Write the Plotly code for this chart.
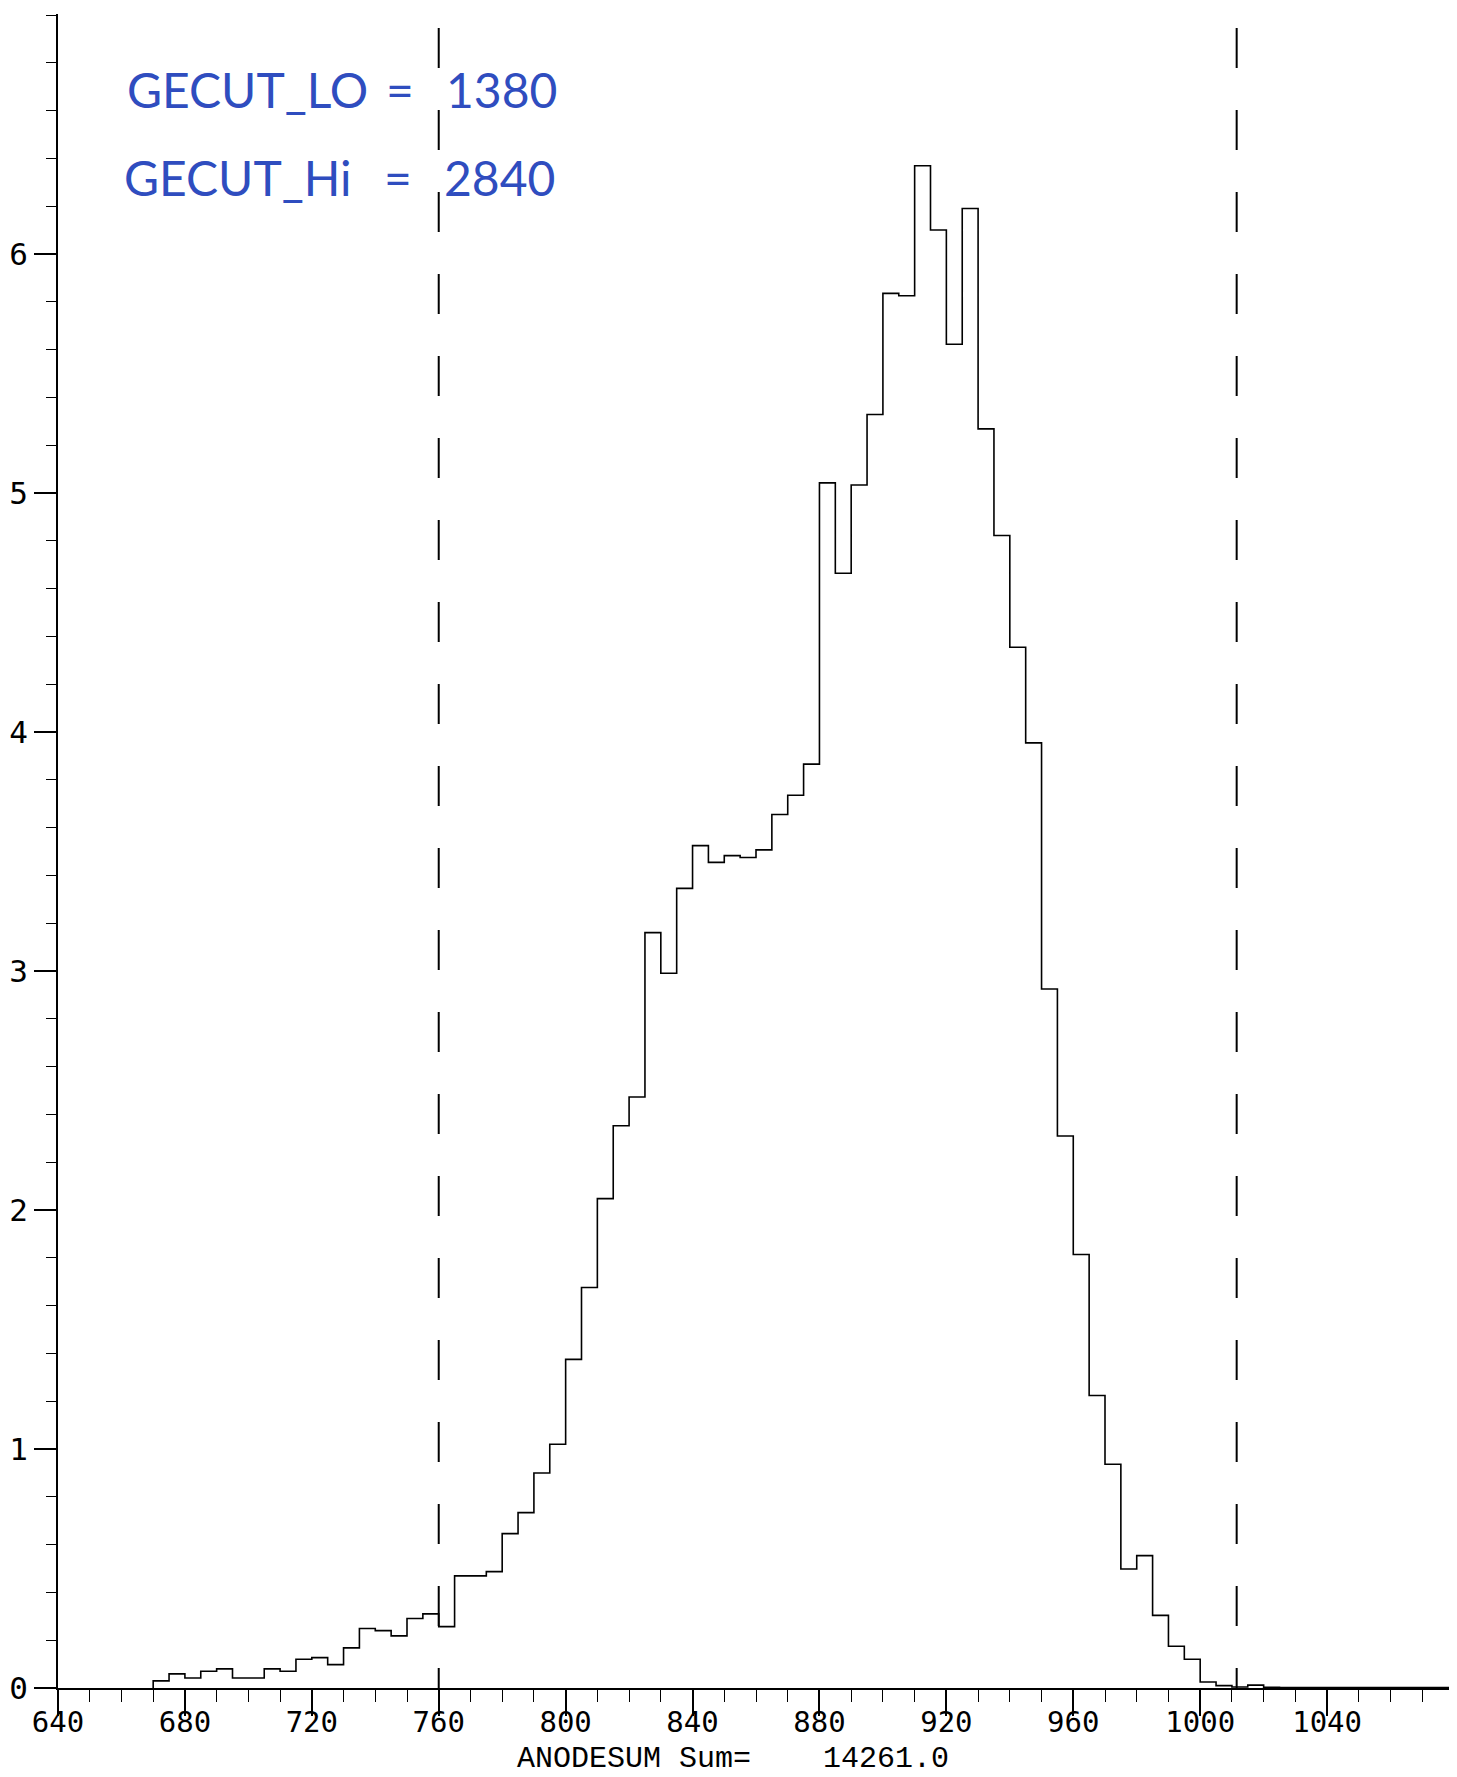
import plotly.graph_objects as go

# ---------------- data ----------------
bin_start = 670          # left edge of first bin
bin_width = 5            # bin width (ANODESUM units)
counts = [
    0.030, 0.059, 0.042, 0.070, 0.080, 0.042, 0.042, 0.080, 0.070, 0.120,   # 670-715
    0.127, 0.098, 0.168, 0.249, 0.240, 0.218, 0.291, 0.310, 0.257, 0.469,   # 720-765
    0.469, 0.487, 0.646, 0.734, 0.900, 1.020, 1.375, 1.676, 2.048, 2.353,   # 770-815
    2.473, 3.161, 2.991, 3.346, 3.525, 3.455, 3.483, 3.475, 3.507, 3.655,   # 820-865
    3.736, 3.866, 5.043, 4.665, 5.034, 5.329, 5.836, 5.826, 6.370, 6.101,   # 870-915
    5.623, 6.191, 5.269, 4.823, 4.355, 3.955, 2.925, 2.310, 1.814, 1.224,   # 920-965
    0.936, 0.498, 0.554, 0.304, 0.175, 0.120, 0.025, 0.010, 0.004, 0.012,   # 970-1015
    0.003, 0.002, 0.002, 0.002, 0.002, 0.002, 0.002, 0.002, 0.002, 0.002,   # 1020-1065
    0.002, 0.002,                                                           # 1070-1075
]
x_tick_vals = [640, 680, 720, 760, 800, 840, 880, 920, 960, 1000, 1040]
y_tick_vals = [0, 1, 2, 3, 4, 5, 6]
cut_lines = [760, 1011.5]
gecut_names = ["GECUT_LO", "GECUT_Hi"]
gecut_values = ["1380", "2840"]
hist_name = "ANODESUM"
hist_sum = 14261.0

X_RANGE = [640, 1080]
Y_RANGE = [0, 7.005]

# ---------------- figure ----------------
edges = [bin_start + i * bin_width for i in range(len(counts) + 1)]
xs = [edges[0]] + edges
ys = [0] + counts + [counts[-1]]

fig = go.Figure()
fig.add_trace(go.Scatter(
    x=xs, y=ys, mode="lines", line=dict(shape="hv", color="black", width=1.6),
    showlegend=False, hoverinfo="skip"))

for cx in cut_lines:
    fig.add_trace(go.Scatter(
        x=[cx, cx], y=[-0.084, Y_RANGE[1]], mode="lines",
        line=dict(color="black", width=2, dash="40px,42px"),
        showlegend=False, hoverinfo="skip"))

W, H = 1457, 1777
ML, MR, MT, MB = 50, 11, 6, 97
PW, PH = W - ML - MR, H - MT - MB


def px(xp):
    return (xp - ML) / PW


def py(yp):
    return (H - MB - yp) / PH


mono = "Liberation Mono"
x_tick_font = dict(family="DejaVu Sans Mono", size=29, color="black")
y_tick_font = dict(family="DejaVu Sans Mono", size=31, color="black")
annotations = [
    dict(text=f"{hist_name}\u00a0Sum=\u00a0\u00a0\u00a0\u00a0{hist_sum:.1f}",
         xref="paper", yref="paper", x=px(508), y=py(1751), xanchor="left", yanchor="middle",
         showarrow=False, borderpad=0, font=dict(family=mono, size=30, color="black")),
]
hand_blue = "#2f4dbf"
hand_font = dict(family="Lato", size=48, color=hand_blue)
rows_y = [82, 170]
name_x = [117, 114]
eq_x = [392, 390]
val_x = [436, 434]
for i in range(2):
    annotations.append(dict(text=gecut_names[i], xref="paper", yref="paper",
                            x=px(name_x[i]), y=py(rows_y[i]), xanchor="left", yanchor="middle",
                            showarrow=False, font=hand_font))
    annotations.append(dict(text="=", xref="paper", yref="paper",
                            x=px(eq_x[i]), y=py(rows_y[i]), xanchor="center", yanchor="middle",
                            showarrow=False, font=hand_font))
    annotations.append(dict(text=gecut_values[i], xref="paper", yref="paper",
                            x=px(val_x[i]), y=py(rows_y[i]), xanchor="left", yanchor="middle",
                            showarrow=False, font=hand_font))

fig.update_layout(
    width=W, height=H,
    margin=dict(l=ML, r=MR, t=MT, b=MB),
    paper_bgcolor="white", plot_bgcolor="white",
    annotations=annotations,
    xaxis=dict(
        range=X_RANGE, showgrid=False, zeroline=False, automargin=False,
        showline=True, linecolor="black", linewidth=1.6,
        ticks="outside", ticklen=26, tickwidth=1.5, tickcolor="black",
        tickmode="array", tickvals=x_tick_vals, ticktext=[str(v) for v in x_tick_vals],
        tickfont=x_tick_font,
        ticklabelstandoff=-19,
        minor=dict(tickmode="linear", tick0=640, dtick=10, ticks="outside",
                   ticklen=12, tickwidth=1.3, tickcolor="black", showgrid=False),
    ),
    yaxis=dict(
        range=Y_RANGE, showgrid=False, zeroline=False, automargin=False,
        showline=True, linecolor="black", linewidth=1.6,
        ticks="outside", ticklen=22, tickwidth=1.5, tickcolor="black",
        tickmode="array", tickvals=y_tick_vals, ticktext=[str(v) for v in y_tick_vals],
        tickfont=y_tick_font,
        minor=dict(tickmode="linear", tick0=0, dtick=0.2, ticks="outside",
                   ticklen=10, tickwidth=1.3, tickcolor="black", showgrid=False),
    ),
)

fig.write_html("out.html")
